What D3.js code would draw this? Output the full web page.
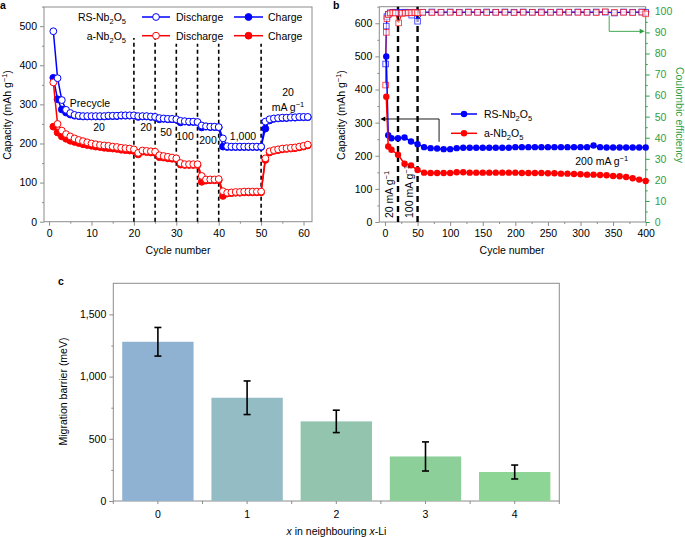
<!DOCTYPE html>
<html><head><meta charset="utf-8">
<script src="https://cdn.jsdelivr.net/npm/d3@7"></script>
<style>
body{margin:0;background:#fff;}
svg{font-family:"Liberation Sans",Arial,Helvetica,sans-serif;}
</style></head><body>
<svg id="chart" width="685" height="537"></svg>
<script>
// ---------------- DATA ----------------
// Panel a: rate performance, cycles 1..61
const cyclesA = d3.range(1, 62);
const rsDischarge = [487,367,311,286,278,273,271,270,270,270,270,270,270,271,271,271,272,272,272,272,
  270,270,270,269,268, 265,264,263,263,262, 258,257,256,256,255, 246,244,243,243,242,
  213,193,192,192,192,192,192,192,192,192, 256,262,264,265,266,266,267,267,268,268,268];
const rsCharge = [368,313,287,279,274,271,270,269,269,269,269,269,269,270,270,270,271,271,271,271,
  268,269,269,268,267, 262,263,262,262,261, 254,256,255,255,254, 241,243,242,242,241,
  192,191,191,191,191,191,191,191,191,191, 238,259,263,264,265,265,266,266,267,267,267];
const aDischarge = [356,250,233,224,218,213,209,206,203,200,198,196,195,194,192,191,189,188,187,185,
  176,182,181,180,179, 170,168,166,164,162, 150,147,147,147,147, 117,108,108,108,109,
  78,74,75,76,76,77,77,77,77,77, 162,180,183,185,187,188,189,190,192,194,197];
const aCharge = [243,228,218,212,207,204,201,198,196,194,192,191,189,188,187,186,184,183,182,181,
  172,179,178,177,176, 165,164,162,161,160, 146,145,145,145,145, 102,105,106,106,106,
  66,72,73,74,74,75,75,75,75,75, 158,177,181,183,185,186,187,188,190,192,195];
const rateLines = [20,25,30,35,40,50];
const rateLineTop = [470,470,455,455,455,455];

// Panel b: long cycling
const capCycles = [2,5].concat(d3.range(10, 401, 10));
const rsCap = [500,262, 253,253,255,243,235,226,223,222,220,220,223,224,224,224,224,224,224,224,224,
  226,226,226,226,226,226,226,226,226,226,226,226,231,226,225,225,225,225,225,225,225];
const aCap = [378,228, 218,203,176,171,157,149,148,148,148,148,150,150,149,149,149,149,149,149,149,
  149,148,148,148,148,147,147,146,146,145,144,143,143,142,141,139,138,136,132,128,124];
const ceCycles = [1,2,3,5,8,12,16,21,26,31,36,41,46,50,58,72,86,100,114,128,142,156,170,184,198,212,
  226,240,254,268,282,296,310,324,338,352,366,380,394,400];
const ceRS = [75,93,97.5,98.6,99.3,99.5,99.6,99.3,99.5,99.6,99.5,98.2,99.6,95.3,99.6,99.7,99.6,99.7,99.6,99.7,
  99.6,99.7,99.6,99.7,99.6,99.7,99.6,99.7,99.6,99.7,99.6,99.7,99.6,99.7,99.6,99.2,99.7,99.6,99.7,99.5];
const ceA = [65,90,96.5,98.5,99.2,99.3,99.2,94.5,99.0,99.2,99.3,99.3,99.4,99.3,99.5,99.4,99.5,99.5,99.4,99.5,
  99.5,99.4,99.5,99.5,99.4,99.5,99.5,99.4,99.5,99.5,99.6,99.5,99.5,99.4,99.8,99.5,99.5,99.4,99.6,98.8];
const bRateLines = [20,50];

// Panel c: migration barrier
const barCats = ['0','1','2','3','4'];
const barVals = [1280,830,640,358,233];
const barErr = [115,135,90,117,56];
const barColors = ['#90b2d2','#94bcc4','#93c4ae','#8ccf99','#8dd594'];

// ---------------- HELPERS ----------------
const svg = d3.select('#chart');
const FS = 10.5;
const GREY = '#8c8c8c';
const BLUE = '#0000ff', RED = '#ff0000', GREEN = '#2ea043';

function rich(sel, parts, size) {
  size = size || FS;
  let shift = 0;
  parts.forEach(([t, type]) => {
    const ts = sel.append('tspan').text(t);
    const target = type === 'sub' ? size * 0.3 : type === 'sup' ? -size * 0.38 : 0;
    if (target - shift !== 0) ts.attr('dy', target - shift);
    shift = target;
    if (type === 'sub' || type === 'sup') ts.style('font-size', (size * 0.72) + 'px');
    if (type === 'i') ts.style('font-style', 'italic');
  });
  return sel;
}
const RS = [['RS-Nb'],['2','sub'],['O'],['5','sub']];
const AN = [['a-Nb'],['2','sub'],['O'],['5','sub']];
const CAP = [['Capacity (mAh g'],['−1','sup'],[')']];

function styleAxis(g, color, textColor) {
  g.select('.domain').remove();
  g.selectAll('.tick line').attr('stroke', color).attr('stroke-width', 1);
  g.selectAll('.tick text').attr('fill', textColor || '#000').style('font-size', FS + 'px')
    .style('font-family', '"Liberation Sans",Arial,Helvetica,sans-serif');
}
function addText(x, y, parts, opts) {
  opts = opts || {};
  const t = svg.append('text').attr('x', x).attr('y', y)
    .attr('text-anchor', opts.anchor || 'middle')
    .style('font-size', (opts.size || FS) + 'px')
    .attr('fill', opts.fill || '#000');
  if (opts.weight) t.style('font-weight', opts.weight);
  if (opts.rotate !== undefined) t.attr('transform', `rotate(${opts.rotate},${x},${y})`);
  rich(t, parts, opts.size || FS);
  return t;
}

// ---------------- PANEL A ----------------
(function () {
  const L = 44, R = 312, T = 7, B = 221.7;
  const x = d3.scaleLinear().domain([-1.2, 62]).range([L, R]);
  const y = d3.scaleLinear().domain([0, 549]).range([B, T]);
  const g = svg.append('g');
  g.append('rect').attr('x', L).attr('y', T).attr('width', R - L).attr('height', B - T)
    .attr('fill', 'none').attr('stroke', GREY);
  g.append('g').attr('transform', `translate(0,${B})`)
    .call(d3.axisBottom(x).tickValues(d3.range(0, 61, 10)).tickSize(4).tickPadding(4).tickFormat(d3.format('d')))
    .call(s => styleAxis(s, GREY));
  g.append('g').attr('transform', `translate(0,${B})`)
    .call(d3.axisBottom(x).tickValues(d3.range(5, 61, 10)).tickSize(2).tickFormat(''))
    .call(s => styleAxis(s, GREY));
  g.append('g').attr('transform', `translate(${L},0)`)
    .call(d3.axisLeft(y).tickValues(d3.range(0, 501, 100)).tickSize(4).tickPadding(3).tickFormat(d3.format('d')))
    .call(s => styleAxis(s, GREY));
  g.append('g').attr('transform', `translate(${L},0)`)
    .call(d3.axisLeft(y).tickValues(d3.range(50, 551, 100)).tickSize(2).tickFormat(''))
    .call(s => styleAxis(s, GREY));

  // dashed rate separators
  rateLines.forEach((c, i) => {
    g.append('line').attr('x1', x(c)).attr('x2', x(c)).attr('y1', y(0)).attr('y2', y(rateLineTop[i]))
      .attr('stroke', '#000').attr('stroke-width', 1.6).attr('stroke-dasharray', '4,3');
  });

  const line = d3.line().x((d, i) => x(cyclesA[i])).y(d => y(d));
  function series(vals, color, open) {
    g.append('path').datum(vals).attr('d', line).attr('fill', 'none').attr('stroke', color).attr('stroke-width', 1.5);
    g.selectAll(null).data(vals).enter().append('circle')
      .attr('cx', (d, i) => x(cyclesA[i])).attr('cy', d => y(d)).attr('r', 3.4)
      .attr('fill', open ? '#fff' : color).attr('stroke', color).attr('stroke-width', 1);
  }
  series(aCharge, RED, false);
  series(rsCharge, BLUE, false);
  series(aDischarge, RED, true);
  series(rsDischarge, BLUE, true);

  // annotations
  addText(90, 107, [['Precycle']]);
  addText(99, 131, [['20']]);
  addText(146, 131, [['20']]);
  addText(166, 135.5, [['50']]);
  addText(185, 140, [['100']]);
  addText(208, 144, [['200']]);
  addText(243, 140, [['1,000']]);
  addText(288, 95.5, [['20']]);
  addText(288, 110.5, [['mA g'],['−1','sup']]);

  // legend
  [[RS, BLUE, 17], [AN, RED, 35.7]].forEach(([lab, col, yy]) => {
    addText(126, yy + 4, lab, { anchor: 'end' });
    g.append('line').attr('x1', 142).attr('x2', 170).attr('y1', yy).attr('y2', yy).attr('stroke', col).attr('stroke-width', 1.5);
    g.append('circle').attr('cx', 156).attr('cy', yy).attr('r', 3.4).attr('fill', '#fff').attr('stroke', col);
    addText(176, yy + 4, [['Discharge']], { anchor: 'start' });
    g.append('line').attr('x1', 234).attr('x2', 263).attr('y1', yy).attr('y2', yy).attr('stroke', col).attr('stroke-width', 1.5);
    g.append('circle').attr('cx', 248.5).attr('cy', yy).attr('r', 3.4).attr('fill', col).attr('stroke', col);
    addText(268, yy + 4, [['Charge']], { anchor: 'start' });
  });

  addText(178, 254, [['Cycle number']]);
  addText(11, 115, CAP, { rotate: -90 });
  addText(0, 9, [['a']], { anchor: 'start', weight: 'bold' });
})();

// ---------------- PANEL B ----------------
(function () {
  const L = 379.3, R = 645.7, T = 6.7, B = 222;
  const x = d3.scaleLinear().domain([-8.7, 400]).range([L, R]);
  const y = d3.scaleLinear().domain([0, 650]).range([B, T]);
  const y2 = d3.scaleLinear().domain([0, 102.2]).range([B, T]);
  const g = svg.append('g');
  g.append('path').attr('d', `M${L},${B}V${T}H${R}`).attr('fill', 'none').attr('stroke', GREY);
  g.append('line').attr('x1', L).attr('x2', R).attr('y1', B).attr('y2', B).attr('stroke', GREY);
  g.append('line').attr('x1', R).attr('x2', R).attr('y1', B).attr('y2', T).attr('stroke', GREEN);

  g.append('g').attr('transform', `translate(0,${B})`)
    .call(d3.axisBottom(x).tickValues(d3.range(0, 401, 50)).tickSize(4).tickPadding(4).tickFormat(d3.format('d')))
    .call(s => styleAxis(s, GREY));
  g.append('g').attr('transform', `translate(0,${B})`)
    .call(d3.axisBottom(x).tickValues(d3.range(25, 400, 50)).tickSize(2).tickFormat(''))
    .call(s => styleAxis(s, GREY));
  g.append('g').attr('transform', `translate(${L},0)`)
    .call(d3.axisLeft(y).tickValues(d3.range(0, 601, 100)).tickSize(4).tickPadding(3).tickFormat(d3.format('d')))
    .call(s => styleAxis(s, GREY));
  g.append('g').attr('transform', `translate(${L},0)`)
    .call(d3.axisLeft(y).tickValues(d3.range(50, 651, 100)).tickSize(2).tickFormat(''))
    .call(s => styleAxis(s, GREY));
  g.append('g').attr('transform', `translate(${R},0)`)
    .call(d3.axisRight(y2).tickValues(d3.range(0, 101, 10)).tickSize(4).tickPadding(5).tickFormat(d3.format('d')))
    .call(s => styleAxis(s, GREEN, GREEN));
  g.append('g').attr('transform', `translate(${R},0)`)
    .call(d3.axisRight(y2).tickValues(d3.range(5, 100, 10)).tickSize(2).tickFormat(''))
    .call(s => styleAxis(s, GREEN, GREEN));

  bRateLines.forEach(c => {
    g.append('line').attr('x1', x(c)).attr('x2', x(c)).attr('y1', B).attr('y2', T)
      .attr('stroke', '#000').attr('stroke-width', 2.4).attr('stroke-dasharray', '6,4');
  });

  // CE series
  const ceLine = d3.line().x((d, i) => x(ceCycles[i])).y(d => y2(d));
  [[ceA, RED], [ceRS, BLUE]].forEach(([vals, col]) => {
    g.append('path').datum(vals).attr('d', ceLine).attr('fill', 'none').attr('stroke', col).attr('stroke-width', 1);
  });
  [[ceRS, BLUE], [ceA, RED]].forEach(([vals, col]) => {
    g.selectAll(null).data(vals).enter().append('rect')
      .attr('x', (d, i) => x(ceCycles[i]) - 2.8).attr('y', d => y2(d) - 2.8)
      .attr('width', 5.6).attr('height', 5.6).attr('fill', '#fff').attr('fill-opacity', 0.6)
      .attr('stroke', col).attr('stroke-width', 0.9).attr('stroke-opacity', 0.75);
  });

  // capacity series
  const capLine = d3.line().x((d, i) => x(capCycles[i])).y(d => y(d));
  [[rsCap, BLUE], [aCap, RED]].forEach(([vals, col]) => {
    g.append('path').datum(vals).attr('d', capLine).attr('fill', 'none').attr('stroke', col).attr('stroke-width', 1.5);
    g.selectAll(null).data(vals).enter().append('circle')
      .attr('cx', (d, i) => x(capCycles[i])).attr('cy', d => y(d)).attr('r', 3.2).attr('fill', col);
  });

  // black arrow (capacity -> left axis)
  const ax = x(83), ay = y(311);
  g.append('path').attr('d', `M${ax},${y(242)}V${ay}H${L + 5}`).attr('fill', 'none').attr('stroke', '#000').attr('stroke-width', 0.9);
  g.append('path').attr('d', `M${L + 1},${ay}l5,-2.5v5z`).attr('fill', '#000');
  // green arrow (CE -> right axis)
  const gx = x(344), gy = y2(90.5);
  g.append('path').attr('d', `M${gx},${y2(98)}V${gy}H${R - 5}`).attr('fill', 'none').attr('stroke', GREEN).attr('stroke-width', 0.9);
  g.append('path').attr('d', `M${R - 1},${gy}l-5,-2.5v5z`).attr('fill', GREEN);

  // legend
  [[RS, BLUE, 114], [AN, RED, 133.3]].forEach(([lab, col, yy]) => {
    g.append('line').attr('x1', 451).attr('x2', 477).attr('y1', yy).attr('y2', yy).attr('stroke', col).attr('stroke-width', 1.5);
    g.append('circle').attr('cx', 464).attr('cy', yy).attr('r', 3.2).attr('fill', col);
    addText(484, yy + 4, lab, { anchor: 'start' });
  });

  addText(393, 218, [['20 mA g'],['−1','sup']], { anchor: 'start', rotate: -90 });
  addText(413, 218, [['100 mA g'],['−1','sup']], { anchor: 'start', rotate: -90 });
  addText(601.7, 165, [['200 mA g'],['−1','sup']]);

  addText(512, 254, [['Cycle number']]);
  addText(345, 115, CAP, { rotate: -90 });
  addText(676, 115, [['Coulombic efficiency']], { rotate: 90, fill: GREEN });
  addText(333, 9, [['b']], { anchor: 'start', weight: 'bold' });
})();

// ---------------- PANEL C ----------------
(function () {
  const L = 113.3, R = 559.3, T = 283.3, B = 501;
  const x = d3.scaleBand().domain(barCats).range([L, R]).paddingInner(0.2).paddingOuter(0.1);
  const y = d3.scaleLinear().domain([0, 1750]).range([B, T]);
  const g = svg.append('g');
  g.append('rect').attr('x', L).attr('y', T).attr('width', R - L).attr('height', B - T)
    .attr('fill', 'none').attr('stroke', GREY);
  g.append('g').attr('transform', `translate(0,${B})`)
    .call(d3.axisBottom(x).tickSize(3).tickPadding(7))
    .call(s => styleAxis(s, GREY));
  const step = x.step();
  const bounds = d3.range(0, barCats.length + 1).map(i => L + i * step);
  g.append('g').selectAll('line').data(bounds).enter().append('line')
    .attr('x1', d => d).attr('x2', d => d).attr('y1', B).attr('y2', B + 3).attr('stroke', GREY);
  g.append('g').attr('transform', `translate(${L},0)`)
    .call(d3.axisLeft(y).tickValues([0, 500, 1000, 1500]).tickSize(4).tickPadding(3).tickFormat(d3.format(',')))
    .call(s => styleAxis(s, GREY));
  g.append('g').attr('transform', `translate(${L},0)`)
    .call(d3.axisLeft(y).tickValues([250, 750, 1250]).tickSize(2).tickFormat(''))
    .call(s => styleAxis(s, GREY));

  g.selectAll(null).data(barVals).enter().append('rect')
    .attr('x', (d, i) => x(barCats[i])).attr('width', x.bandwidth())
    .attr('y', d => y(d)).attr('height', d => B - y(d))
    .attr('fill', (d, i) => barColors[i]);
  barVals.forEach((v, i) => {
    const cx = x(barCats[i]) + x.bandwidth() / 2;
    const hi = y(v + barErr[i]), lo = y(v - barErr[i]);
    g.append('line').attr('x1', cx).attr('x2', cx).attr('y1', hi).attr('y2', lo).attr('stroke', '#000').attr('stroke-width', 1.6);
    [hi, lo].forEach(yy => g.append('line').attr('x1', cx - 3.5).attr('x2', cx + 3.5).attr('y1', yy).attr('y2', yy)
      .attr('stroke', '#000').attr('stroke-width', 1.6));
  });

  addText(336.5, 535, [['x', 'i'], [' in neighbouring '], ['x', 'i'], ['-Li']]);
  addText(67, 391.5, [['Migration barrier (meV)']], { rotate: -90 });
  addText(58, 285, [['c']], { anchor: 'start', weight: 'bold' });
})();
</script>
</body></html>
